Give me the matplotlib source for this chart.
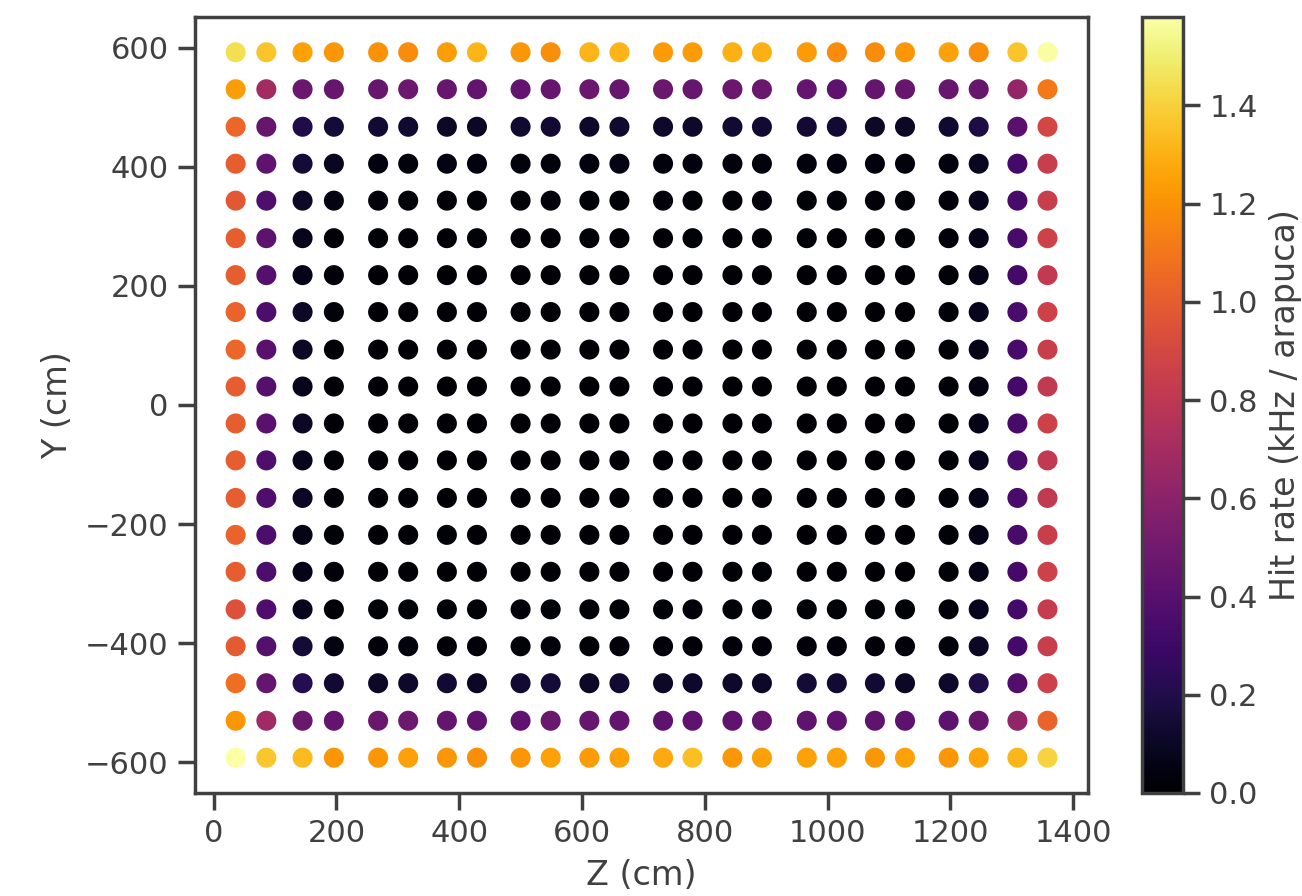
import matplotlib

matplotlib.use("Agg")
import matplotlib.pyplot as plt  # noqa: E402
import numpy as np  # noqa: E402
import seaborn as sns  # noqa: E402

# detector positions (cm)
z_cm = [36, 86, 145, 196, 268, 317, 380, 429, 500, 549, 612, 661,
        732, 780, 845, 893, 966, 1015, 1077, 1126, 1197, 1246, 1309, 1358]
y_cm = [592, 530, 467, 405, 343, 280, 218, 156, 93, 31, -31, -93,
        -156, -218, -280, -343, -405, -467, -530, -592]

# hit rate (kHz / arapuca), one row per y (top to bottom), one column per z
rate = [
    [1.45, 1.36, 1.25, 1.22, 1.20, 1.18, 1.24, 1.31, 1.21, 1.19, 1.31, 1.31, 1.23, 1.23, 1.30, 1.30, 1.23, 1.18, 1.18, 1.22, 1.25, 1.19, 1.36, 1.57],
    [1.24, 0.69, 0.47, 0.46, 0.46, 0.48, 0.46, 0.44, 0.44, 0.46, 0.47, 0.46, 0.47, 0.46, 0.47, 0.47, 0.45, 0.42, 0.45, 0.46, 0.46, 0.46, 0.63, 1.11],
    [1.04, 0.46, 0.20, 0.15, 0.14, 0.13, 0.11, 0.10, 0.13, 0.14, 0.12, 0.13, 0.12, 0.12, 0.14, 0.14, 0.14, 0.14, 0.11, 0.10, 0.13, 0.19, 0.41, 0.89],
    [1.01, 0.43, 0.15, 0.09, 0.04, 0.04, 0.05, 0.04, 0.035, 0.035, 0.04, 0.05, 0.04, 0.04, 0.035, 0.035, 0.04, 0.04, 0.035, 0.035, 0.04, 0.09, 0.33, 0.84],
    [0.98, 0.37, 0.11, 0.05, 0.025, 0.02, 0.025, 0.02, 0.02, 0.025, 0.02, 0.02, 0.025, 0.02, 0.02, 0.025, 0.02, 0.02, 0.025, 0.02, 0.025, 0.075, 0.34, 0.84],
    [1.01, 0.42, 0.075, 0.025, 0.02, 0.01, 0.01, 0.02, 0.01, 0.01, 0.02, 0.01, 0.01, 0.02, 0.01, 0.01, 0.02, 0.01, 0.01, 0.02, 0.025, 0.065, 0.34, 0.87],
    [1.00, 0.39, 0.065, 0.025, 0.01, 0.01, 0.01, 0.01, 0.01, 0.01, 0.01, 0.01, 0.01, 0.01, 0.01, 0.01, 0.01, 0.01, 0.01, 0.01, 0.02, 0.065, 0.33, 0.82],
    [1.03, 0.36, 0.11, 0.035, 0.01, 0.01, 0.01, 0.01, 0.00, 0.01, 0.01, 0.01, 0.01, 0.00, 0.01, 0.01, 0.01, 0.00, 0.01, 0.01, 0.02, 0.075, 0.35, 0.87],
    [1.04, 0.41, 0.10, 0.025, 0.01, 0.00, 0.01, 0.01, 0.01, 0.00, 0.01, 0.01, 0.00, 0.01, 0.01, 0.00, 0.01, 0.01, 0.00, 0.01, 0.02, 0.065, 0.34, 0.85],
    [1.00, 0.39, 0.08, 0.025, 0.01, 0.01, 0.00, 0.01, 0.01, 0.01, 0.00, 0.01, 0.01, 0.01, 0.00, 0.01, 0.01, 0.01, 0.01, 0.00, 0.02, 0.055, 0.33, 0.81],
    [1.00, 0.41, 0.10, 0.025, 0.01, 0.01, 0.01, 0.00, 0.01, 0.01, 0.01, 0.00, 0.01, 0.01, 0.01, 0.01, 0.00, 0.01, 0.01, 0.01, 0.02, 0.065, 0.34, 0.87],
    [1.00, 0.37, 0.075, 0.02, 0.01, 0.01, 0.01, 0.01, 0.00, 0.01, 0.01, 0.01, 0.00, 0.01, 0.01, 0.01, 0.01, 0.00, 0.01, 0.01, 0.02, 0.075, 0.35, 0.81],
    [1.00, 0.37, 0.10, 0.025, 0.01, 0.01, 0.01, 0.01, 0.01, 0.01, 0.01, 0.01, 0.01, 0.01, 0.01, 0.01, 0.01, 0.01, 0.01, 0.01, 0.02, 0.065, 0.34, 0.81],
    [1.03, 0.36, 0.065, 0.02, 0.01, 0.01, 0.02, 0.01, 0.01, 0.01, 0.01, 0.01, 0.01, 0.01, 0.01, 0.01, 0.01, 0.01, 0.01, 0.01, 0.02, 0.065, 0.34, 0.85],
    [1.00, 0.36, 0.065, 0.025, 0.01, 0.01, 0.01, 0.01, 0.01, 0.01, 0.01, 0.01, 0.01, 0.01, 0.01, 0.02, 0.01, 0.01, 0.01, 0.01, 0.02, 0.065, 0.33, 0.87],
    [0.95, 0.37, 0.075, 0.025, 0.02, 0.02, 0.02, 0.02, 0.025, 0.02, 0.02, 0.02, 0.02, 0.025, 0.02, 0.02, 0.02, 0.02, 0.02, 0.02, 0.025, 0.075, 0.33, 0.83],
    [0.99, 0.39, 0.15, 0.055, 0.025, 0.035, 0.025, 0.025, 0.02, 0.035, 0.02, 0.025, 0.025, 0.025, 0.025, 0.025, 0.025, 0.025, 0.025, 0.025, 0.035, 0.10, 0.33, 0.84],
    [1.07, 0.45, 0.22, 0.14, 0.11, 0.12, 0.14, 0.10, 0.14, 0.15, 0.11, 0.14, 0.11, 0.12, 0.12, 0.11, 0.15, 0.14, 0.14, 0.10, 0.12, 0.19, 0.38, 0.87],
    [1.21, 0.68, 0.47, 0.44, 0.47, 0.48, 0.45, 0.43, 0.43, 0.47, 0.46, 0.44, 0.42, 0.43, 0.43, 0.45, 0.43, 0.43, 0.43, 0.42, 0.42, 0.46, 0.62, 1.03],
    [1.58, 1.37, 1.33, 1.22, 1.21, 1.25, 1.21, 1.19, 1.22, 1.25, 1.23, 1.25, 1.28, 1.34, 1.21, 1.25, 1.25, 1.25, 1.22, 1.25, 1.22, 1.26, 1.32, 1.41],
]

sns.set_theme(style="ticks", context="notebook")
plt.rcParams["font.family"] = ["DejaVu Sans"]
grey = ".25"
plt.rcParams.update({
    "text.color": grey, "axes.labelcolor": grey, "axes.edgecolor": grey,
    "xtick.color": grey, "ytick.color": grey,
})

zz, yy = np.meshgrid(z_cm, y_cm)
vals = np.array(rate)

fig = plt.figure(figsize=(6.51, 4.48), dpi=200)
ax = fig.add_axes([0.1498, 0.115, 0.6859, 0.866])
cax = fig.add_axes([0.877, 0.115, 0.0315, 0.866])

sc = ax.scatter(zz.ravel(), yy.ravel(), c=vals.ravel(), cmap="inferno",
                vmin=0, vmax=vals.max(), s=52, linewidths=0)
ax.set_xticks(np.arange(0, 1401, 200))
ax.set_yticks(np.arange(-600, 601, 200))
ax.set_xlabel("Z (cm)")
ax.set_ylabel("Y (cm)")

cb = fig.colorbar(sc, cax=cax)
cb.set_ticks(np.arange(0, 1.41, 0.2))
cb.set_label("Hit rate (kHz / arapuca)")
cb.outline.set_edgecolor(grey)

fig.savefig("out.png", dpi=200)
plt.close(fig)
